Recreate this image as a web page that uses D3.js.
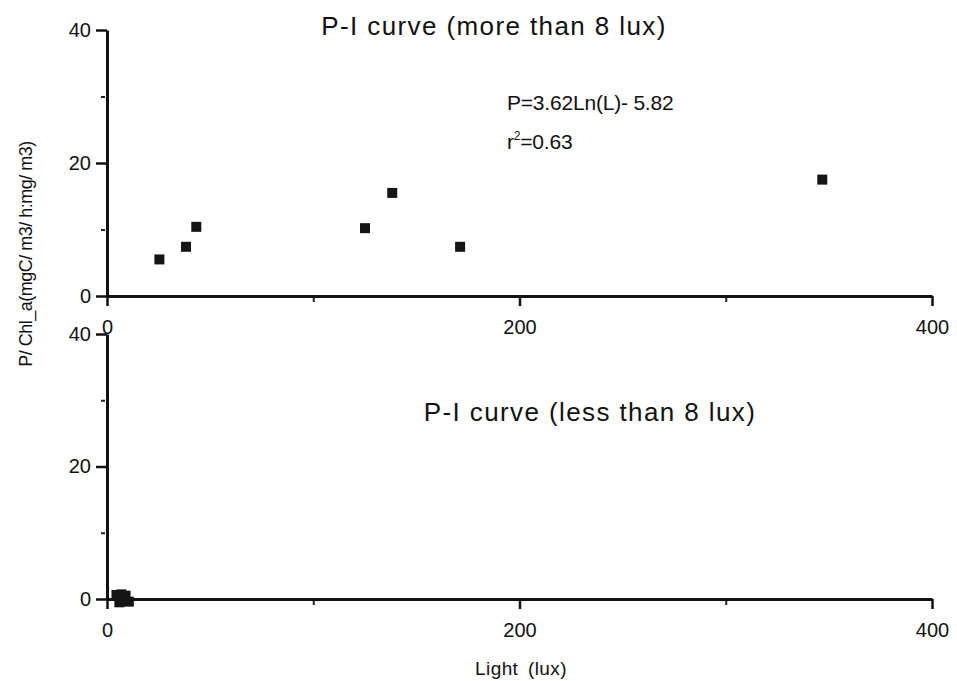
<!DOCTYPE html>
<html>
<head>
<meta charset="utf-8">
<script src="https://cdn.jsdelivr.net/npm/d3@7"></script>
<style>
    body { margin: 0; background: #fff; }
    text { font-family: "Liberation Sans", Arial, sans-serif; fill: #111; }
</style>
</head>
<body>
<svg id="chart" width="957" height="681"></svg>
<script>
// more than 8 lux
var lightHigh = [25.4, 38.3, 43.3, 125.1, 138.3, 171.2, 346.8];
var prodHigh = [5.5, 7.4, 10.4, 10.2, 15.5, 7.4, 17.5];
// less than 8 lux
var lightLow = [4.6, 6, 7, 8, 9, 10.6];
var prodLow = [0.6, -0.5, 0.7, 0.1, 0.5, -0.4];

var xTicks = [0, 200, 400], xMinor = [100, 300];
var yTicks = [0, 20, 40], yMinor = [10, 30];

var svg = d3.select("#chart");

var x = d3.scaleLinear().domain([0, 400]).range([107, 932]);

function drawPanel(yTop, yBottom, lights, prods) {
    var y = d3.scaleLinear().domain([0, 40]).range([yBottom, yTop]);
    var g = svg.append("g");

    // minor ticks first
    g.append("g")
        .attr("transform", "translate(0," + y(0) + ")")
        .call(d3.axisBottom(x).tickValues(xMinor).tickSize(6).tickFormat(""))
        .call(function (a) { a.select(".domain").remove(); })
        .selectAll("line").attr("stroke", "#222").attr("stroke-width", 2);
    g.append("g")
        .attr("transform", "translate(" + (x(0) - 2) + ",0)")
        .call(d3.axisLeft(y).tickValues(yMinor).tickSize(4).tickFormat(""))
        .call(function (a) { a.select(".domain").remove(); })
        .selectAll("line").attr("stroke", "#222").attr("stroke-width", 2);

    var xa = g.append("g")
        .attr("transform", "translate(0," + y(0) + ")")
        .call(d3.axisBottom(x).tickValues(xTicks).tickSize(10).tickSizeOuter(0).tickPadding(14));
    var ya = g.append("g")
        .attr("transform", "translate(" + x(0) + ",0)")
        .call(d3.axisLeft(y).tickValues(yTicks).tickSize(11).tickSizeOuter(0).tickPadding(5));

    [xa, ya].forEach(function (a) {
        a.select(".domain").attr("stroke", "#111").attr("stroke-width", 3);
        a.selectAll(".tick line").attr("stroke", "#111").attr("stroke-width", 2.5);
        a.selectAll(".tick text")
            .attr("font-family", "'Liberation Sans', Arial, sans-serif")
            .attr("font-size", 20)
            .attr("fill", "#111");
    });

    var s = 10;
    g.selectAll(".pt")
        .data(lights.map(function (d, i) { return [d, prods[i]]; }))
        .enter()
        .append("rect")
        .attr("x", function (d) { return x(d[0]) - s / 2; })
        .attr("y", function (d) { return y(d[1]) - s / 2; })
        .attr("width", s)
        .attr("height", s)
        .attr("fill", "#151515");
    return y;
}

drawPanel(30, 296, lightHigh, prodHigh);
drawPanel(334, 599, lightLow, prodLow);

svg.append("text")
    .attr("x", 494).attr("y", 35)
    .attr("text-anchor", "middle")
    .attr("font-size", 26)
    .attr("letter-spacing", 1.4)
    .text("P-I curve (more than 8 lux)");

svg.append("text")
    .attr("x", 590).attr("y", 421)
    .attr("text-anchor", "middle")
    .attr("font-size", 26)
    .attr("letter-spacing", 1.4)
    .text("P-I curve (less than 8 lux)");

svg.append("text")
    .attr("x", 507).attr("y", 110)
    .attr("font-size", 21)
    .attr("letter-spacing", -0.2)
    .text("P=3.62Ln(L)- 5.82");

var r2 = svg.append("text")
    .attr("x", 507).attr("y", 149)
    .attr("font-size", 21)
    .attr("letter-spacing", -0.2);
r2.append("tspan").text("r");
r2.append("tspan").attr("font-size", 12).attr("dy", -9).text("2");
r2.append("tspan").attr("dy", 9).text("=0.63");

svg.append("text")
    .attr("transform", "translate(32,254) rotate(-90)")
    .attr("text-anchor", "middle")
    .attr("font-size", 18)
    .attr("letter-spacing", -0.5)
    .text("P/ Chl_a(mgC/ m3/ h:mg/ m3)");

svg.append("text")
    .attr("x", 521).attr("y", 675)
    .attr("text-anchor", "middle")
    .attr("font-size", 19)
    .attr("letter-spacing", 0.4)
    .attr("word-spacing", 4)
    .text("Light (lux)");
</script>
</body>
</html>
